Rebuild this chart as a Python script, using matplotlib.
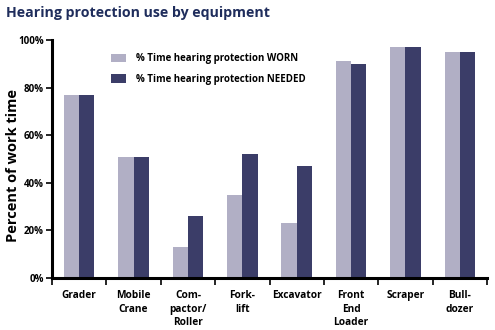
import matplotlib
matplotlib.use("Agg")
import matplotlib.pyplot as plt
import numpy as np

categories = ["Grader", "Mobile\nCrane", "Com-\npactor/\nRoller", "Fork-\nlift", "Excavator",
              "Front\nEnd\nLoader", "Scraper", "Bull-\ndozer"]
worn = [77, 51, 13, 35, 23, 91, 97, 95]
needed = [77, 51, 26, 52, 47, 90, 97, 95]
yticks = [0, 20, 40, 60, 80, 100]
ytick_labels = ["0%", "20%", "40%", "60%", "80%", "100%"]
series_names = ["% Time hearing protection WORN", "% Time hearing protection NEEDED"]

plt.rcParams['font.family'] = ['Open Sans', 'DejaVu Sans']
W = 'bold'
c_worn = "#b1afc5"
c_need = "#3b3d68"
navy = "#1f2d5c"

fig = plt.figure(figsize=(4.95, 3.3), dpi=100)
ax = fig.add_axes([0.105, 0.158, 0.879, 0.721])
x = np.arange(len(categories))
w = 0.28
ax.bar(x - w/2, worn, width=w, color=c_worn, label=series_names[0])
ax.bar(x + w/2, needed, width=w, color=c_need, label=series_names[1])

ax.set_xlim(-0.5, len(categories) - 0.5)
ax.set_ylim(0, 100)
ax.set_yticks(yticks)
ax.set_yticklabels(ytick_labels, fontsize=7, fontweight=W)
ax.set_xticks(np.arange(-0.5, len(categories), 1.0))
ax.set_xticklabels([])
ax.set_xticks(x, minor=True)
ax.set_xticklabels(categories, minor=True, fontsize=7.3, fontweight=W, linespacing=1.3)
ax.tick_params(axis='x', which='minor', length=0, pad=9)
ax.tick_params(axis='x', which='major', length=5, width=1.2, direction='out')
ax.tick_params(axis='y', length=4, width=1.2, direction='out', pad=2)
for s in ['top', 'right']:
    ax.spines[s].set_visible(False)
for s in ['left', 'bottom']:
    ax.spines[s].set_linewidth(2.2)

fig.text(0.026, 0.5, "Percent of work time", fontsize=10.5, fontweight=W,
         rotation=90, ha='center', va='center')
fig.text(0.012, 0.962, "Hearing protection use by equipment", fontsize=10.2, fontweight=W,
         color=navy, va='center', ha='left')

leg = ax.legend(loc='upper left', bbox_to_anchor=(0.115, 0.98), frameon=False,
                prop={'weight': W, 'size': 7},
                handlelength=1.6, handleheight=1.0, labelspacing=1.0, handletextpad=1.0)
fig.savefig("out.png", dpi=100)
